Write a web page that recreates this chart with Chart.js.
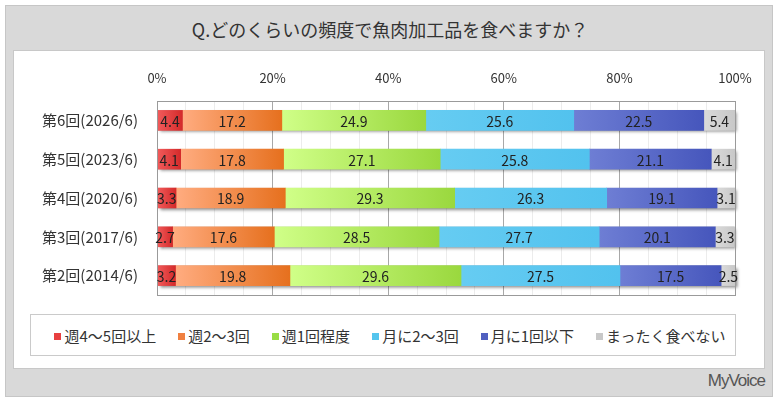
<!DOCTYPE html>
<html lang="ja">
<head>
<meta charset="utf-8">
<script src="https://cdn.jsdelivr.net/npm/chart.js@4.4.1/dist/chart.umd.min.js"></script>
<style>
  body { margin: 0; width: 780px; height: 405px; background: #fff; position: relative; overflow: hidden;
         font-family: "Noto Sans CJK JP", "Noto Sans", sans-serif; color: #333; }
  #frame { position: absolute; left: 5px; top: 5px; width: 768px; height: 392px; box-sizing: border-box;
           background: #d9d9d9; border: 1px solid #c6c6c6; }
  #title { position: absolute; left: 0; top: 16px; width: 780px; text-align: center; font-size: 18px; color: #333; }
  #panel { position: absolute; left: 13px; top: 50px; width: 752px; height: 319px; box-sizing: border-box;
           background: #fff; border: 1px solid #c8c8c8; }
  #legend { position: absolute; left: 30px; top: 314px; width: 706px; height: 42px; box-sizing: border-box;
            border: 1px solid #cacaca; background: #fff; display: flex; align-items: center; justify-content: center;
            gap: 22px; padding-left: 14px; font-size: 15px; color: #333; }
  #legend span.sw { display: inline-block; width: 7px; height: 7px; margin-right: 3px; vertical-align: 2px; }
  #brand { position: absolute; right: 15px; top: 371px; font-family: "Liberation Sans Narrow", "Liberation Sans", Arial, sans-serif;
           font-size: 17px; color: #555; letter-spacing: -1px; }
  canvas { position: absolute; left: 0; top: 0; }
</style>
</head>
<body>
<div id="frame"></div>
<div id="title">Q.どのくらいの頻度で魚肉加工品を食べますか？</div>
<div id="panel"></div>
<div id="legend"></div>
<div id="brand">MyVoice</div>
<canvas id="myChart" width="780" height="405"></canvas>

<script>
// Data
const categories = ['第6回(2026/6)', '第5回(2023/6)', '第4回(2020/6)', '第3回(2017/6)', '第2回(2014/6)'];
const seriesNames = ['週4～5回以上', '週2～3回', '週1回程度', '月に2～3回', '月に1回以下', 'まったく食べない'];
const week4to5 = [4.4, 4.1, 3.3, 2.7, 3.2];
const week2to3 = [17.2, 17.8, 18.9, 17.6, 19.8];
const week1 = [24.9, 27.1, 29.3, 28.5, 29.6];
const month2to3 = [25.6, 25.8, 26.3, 27.7, 27.5];
const month1 = [22.5, 21.1, 19.1, 20.1, 17.5];
const never = [5.4, 4.1, 3.1, 3.3, 2.5];
const tickLabels = ['0%', '20%', '40%', '60%', '80%', '100%'];

const seriesValues = [week4to5, week2to3, week1, month2to3, month1, never];

// colours: [left of gradient, right of gradient, legend swatch]
const colors = [
    ['#f25c5c', '#d42a2a', '#e84040'],
    ['#ffac80', '#e6701e', '#f08040'],
    ['#d0ff88', '#9ad83e', '#99dd44'],
    ['#66ccf2', '#52c2ee', '#55c5ee'],
    ['#6e7ed4', '#4656bc', '#5060c0'],
    ['#dadada', '#c8c8c8', '#c8c8c8']
];

// legend (html)
const legendEl = document.getElementById('legend');
seriesNames.forEach((name, i) => {
    const item = document.createElement('div');
    item.innerHTML = '<span class="sw" style="background:' + colors[i][2] + '"></span>' + name;
    legendEl.appendChild(item);
});

function barFill(ctx) {
    const chart = ctx.chart;
    const di = ctx.datasetIndex;
    if (ctx.type !== 'data' || !chart.chartArea) return colors[di][2];
    let start = 0;
    for (let k = 0; k < di; k++) start += seriesValues[k][ctx.dataIndex];
    const end = start + seriesValues[di][ctx.dataIndex];
    const x0 = chart.scales.x.getPixelForValue(start);
    const x1 = chart.scales.x.getPixelForValue(end);
    const g = chart.ctx.createLinearGradient(x0, 0, x1, 0);
    g.addColorStop(0, colors[di][0]);
    g.addColorStop(1, colors[di][1]);
    return g;
}

// shadow behind each row, labels on top
const barExtras = {
    id: 'barExtras',
    beforeDatasetsDraw(chart) {
        const ctx = chart.ctx;
        const first = chart.getDatasetMeta(0).data;
        const last = chart.getDatasetMeta(seriesValues.length - 1).data;
        ctx.save();
        ctx.shadowColor = 'rgba(0,0,0,0.45)';
        ctx.shadowBlur = 3;
        ctx.shadowOffsetX = 2;
        ctx.shadowOffsetY = 2;
        ctx.fillStyle = '#999';
        first.forEach((el, i) => {
            const a = el.getProps(['base', 'y', 'height'], true);
            const b = last[i].getProps(['x'], true);
            ctx.fillRect(a.base, a.y - a.height / 2, b.x - a.base, a.height);
        });
        ctx.restore();
    },
    afterDatasetsDraw(chart) {
        const ctx = chart.ctx;
        const area = chart.chartArea;
        ctx.save();
        ctx.strokeStyle = '#9a9a9a';
        ctx.lineWidth = 1;
        ctx.strokeRect(Math.round(area.left) + 0.5, Math.round(area.top) + 0.5,
            Math.round(area.right - area.left), Math.round(area.bottom - area.top));
        ctx.font = '14px "Noto Sans CJK JP", "Noto Sans", sans-serif';
        ctx.fillStyle = '#222';
        ctx.textAlign = 'center';
        ctx.textBaseline = 'middle';
        chart.data.datasets.forEach((ds, di) => {
            chart.getDatasetMeta(di).data.forEach((el, i) => {
                const p = el.getProps(['x', 'base', 'y'], true);
                ctx.fillText(ds.data[i].toFixed(1), (p.x + p.base) / 2, p.y + 1);
            });
        });
        ctx.restore();
    }
};

new Chart(document.getElementById('myChart').getContext('2d'), {
    type: 'bar',
    data: {
        labels: categories,
        datasets: seriesValues.map((vals, i) => ({
            label: seriesNames[i],
            data: vals,
            backgroundColor: barFill,
            borderWidth: 0,
            barThickness: 20
        }))
    },
    options: {
        indexAxis: 'y',
        responsive: false,
        animation: false,
        layout: { padding: { left: 0, right: 45, top: 60, bottom: 110 } },
        plugins: {
            legend: { display: false },
            tooltip: { enabled: false }
        },
        scales: {
            x: {
                position: 'top',
                stacked: true,
                min: 0,
                max: 100,
                afterFit: (scale) => { scale.height = 41; },
                border: { display: false },
                grid: {
                    drawTicks: false,
                    color: (c) => (c.tick && c.tick.value % 20 === 0) ? '#a8a8a8' : '#ececec'
                },
                ticks: {
                    stepSize: 5,
                    autoSkip: false,
                    maxRotation: 0,
                    padding: 15,
                    color: '#333',
                    font: { size: 13, family: '"Noto Sans CJK JP", "Noto Sans", sans-serif' },
                    callback: (v) => v % 20 === 0 ? tickLabels[v / 20] : ''
                }
            },
            y: {
                stacked: true,
                afterFit: (scale) => { scale.width = 157; },
                border: { display: false },
                grid: { display: false },
                ticks: {
                    padding: 11,
                    color: '#333',
                    font: { size: 15, family: '"Noto Sans CJK JP", "Noto Sans", sans-serif' }
                }
            }
        }
    },
    plugins: [barExtras]
});
</script>
</body>
</html>
